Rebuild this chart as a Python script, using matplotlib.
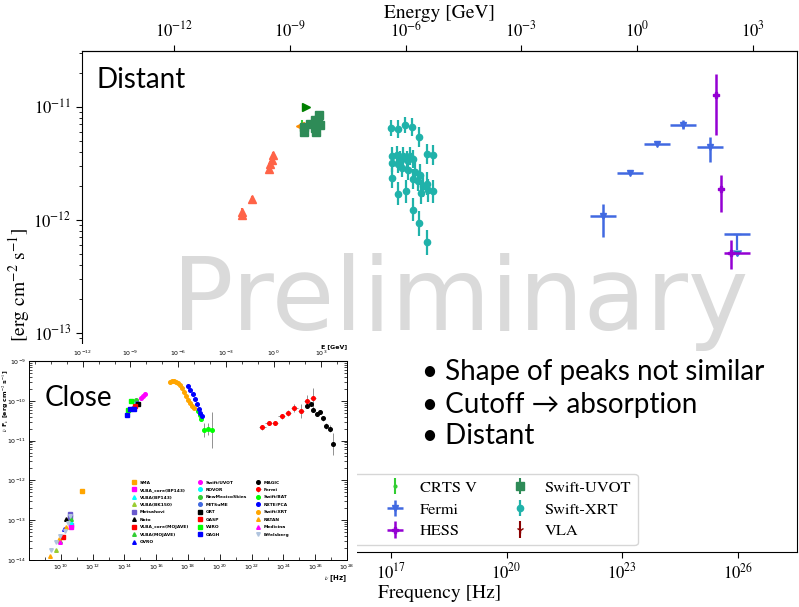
import numpy as np
import matplotlib
matplotlib.use("Agg")
import matplotlib.pyplot as plt
from matplotlib.ticker import NullLocator, NullFormatter, FixedLocator, LogLocator

plt.rcParams['mathtext.fontset'] = 'stix'
plt.rcParams['font.family'] = 'STIXGeneral'

H_GEV = 4.135667e-24  # photon energy in GeV per Hz

# ---------------- distant source (log10 nu [Hz], log10 nuFnu [erg/cm2/s]) ----------------
asas_lognu = [14.64]
asas_logf = [-11.17]
atom_lognu = [14.81]
atom_logf = [-11.00]
wise_lognu = [13.95, 13.92, 13.87, 13.85, 13.41, 13.13, 13.13]
wise_logf = [-11.43, -11.47, -11.51, -11.55, -11.82, -11.93, -11.96]
crts_lognu = [14.70]
crts_logf = [-11.17]
uvot_lognu = [14.74, 14.74, 14.90, 15.03, 15.06, 15.03, 15.14, 15.16, 15.11]
uvot_logf = [-11.22, -11.18, -11.15, -11.19, -11.22, -11.12, -11.07, -11.16, -11.12]
vla_lognu = [9.16]
vla_logf = [-14.30]

xrt_lognu = [16.99, 17.19, 17.36, 17.54, 17.74, 17.93, 18.10,
             17.04, 17.15, 17.23, 17.32, 17.41, 17.49, 17.58,
             17.02, 17.19, 17.30, 17.45, 17.62, 17.75,
             17.02, 17.58, 17.71, 17.82, 17.94,
             17.19, 17.39, 17.77, 17.97, 18.10,
             17.58, 17.74, 17.94]
xrt_logf = [-11.19, -11.20, -11.16, -11.18, -11.27, -11.42, -11.43,
            -11.44, -11.43, -11.47, -11.44, -11.47, -11.44, -11.46,
            -11.50, -11.51, -11.54, -11.56, -11.58, -11.60,
            -11.63, -11.64, -11.66, -11.70, -11.68,
            -11.77, -11.75, -11.76, -11.74, -11.75,
            -11.91, -12.03, -12.20]
xrt_err = [0.07, 0.08, 0.07, 0.08, 0.09, 0.09, 0.09,
           0.08, 0.08, 0.08, 0.08, 0.08, 0.08, 0.08,
           0.08, 0.08, 0.08, 0.09, 0.09, 0.09,
           0.09, 0.09, 0.09, 0.10, 0.10,
           0.10, 0.10, 0.10, 0.10, 0.10,
           0.10, 0.11, 0.11]

fermi_lognu = [22.49, 23.19, 23.89, 24.58, 25.28]
fermi_logf = [-11.97, -11.59, -11.33, -11.16, -11.36]
fermi_binw = [0.34, 0.34, 0.34, 0.34, 0.34]
fermi_err_lo = [0.18, 0.0, 0.0, 0.04, 0.13]
fermi_err_hi = [0.11, 0.0, 0.0, 0.04, 0.09]
fermi_ul_lognu = [25.97]
fermi_ul_logf = [-12.13]

hess_lognu = [25.44, 25.57, 25.81]
hess_logf = [-10.90, -11.73, -12.29]
hess_err_lo = [0.35, 0.20, 0.15]
hess_err_hi = [0.19, 0.13, 0.11]
hess_binw_lo = [0.03, 0.03, 0.17]
hess_binw_hi = [0.03, 0.03, 0.49]

# ---------------- close source ----------------
close_sma = ([11.35], [-12.26])
close_vlba_core_bp = ([10.66, 10.62], [-13.12, -13.18])
close_vlba_bp = ([10.66], [-13.04])
close_vlba_bk = ([9.68], [-13.76])
close_metsahovi = ([10.56, 10.60], [-12.84, -12.91])
close_noto = ([10.35], [-12.98])
close_vlba_core_mojave = ([10.14], [-13.43])
close_vlba_mojave = ([9.97, 10.64], [-13.53, -12.98])
close_ovro = ([10.18], [-13.23])
close_uvot = ([15.07, 15.17, 15.30], [-9.92, -9.87, -9.82])
close_rovor = ([14.71], [-10.03])
close_nms = ([14.75], [-9.97])
close_mitsume = ([14.54, 14.79], [-10.19, -10.05])
close_grt = ([14.83], [-10.07])
close_gasp = ([14.65], [-10.14])
close_wiro = ([14.21, 14.44], [-10.22, -10.01])
close_oagh = ([14.16, 14.37, 14.58], [-10.36, -10.21, -10.21])
close_magic = ([25.48, 25.71, 25.88, 26.09, 26.30, 26.49, 26.70, 26.91, 27.10],
               [-10.13, -10.09, -10.24, -10.33, -10.28, -10.44, -10.64, -10.70, -11.09])
close_fermi = ([22.68, 23.07, 23.47, 23.89, 24.29, 24.69, 25.09, 25.48, 25.88],
               [-10.67, -10.55, -10.55, -10.39, -10.30, -10.19, -10.26, -10.01, -9.94])
close_bat = ([18.65, 18.73, 18.80, 18.99, 19.24, 19.53],
             [-10.26, -10.36, -10.45, -10.74, -10.70, -10.74])
close_pca = ([18.00, 18.15, 18.29, 18.44, 18.57, 18.67, 18.78, 18.86],
             [-9.64, -9.74, -9.84, -9.96, -10.09, -10.20, -10.30, -10.39])
close_xrt = ([16.89, 17.01, 17.14, 17.27, 17.39, 17.52, 17.64, 17.77, 17.90, 18.02, 18.15, 18.27, 18.40],
             [-9.52, -9.50, -9.49, -9.52, -9.55, -9.61, -9.69, -9.78, -9.88, -9.97, -10.05, -10.12, -10.18])
close_ratan = ([9.34, 9.89, 10.35], [-13.90, -13.48, -13.18])
close_medicina = ([9.93], [-13.54])
close_effelsberg = ([9.40, 9.72, 9.97, 10.24, 10.45, 10.56], [-13.76, -13.56, -13.39, -13.26, -13.06, -12.89])

close_magic_err = [0.05, 0.05, 0.05, 0.05, 0.05, 0.06, 0.07, 0.08, 0.27]
close_fermi_err = [0.06, 0.05, 0.05, 0.07, 0.08, 0.10, 0.17, 0.15, 0.25]
close_bat_err = [0.0, 0.0, 0.0, 0.17, 0.15, 0.45]


def lin(logs):
    return np.power(10.0, np.asarray(logs, dtype=float))


def log_err(logs, lo, hi):
    y = lin(logs)
    return [y - y / lin(lo), y * lin(hi) - y]


def nu_to_gev(nu):
    return nu * H_GEV


def gev_to_nu(e):
    return e / H_GEV


def draw_distant(fig):
    ax = fig.add_axes([82 / 799, 1 - 552 / 607, 715 / 799, 501 / 607])
    ax.set_xscale('log')
    ax.set_yscale('log')

    ax.errorbar(lin(asas_lognu), lin(asas_logf), fmt='<', color='darkorange', ms=6, label='ASAS')
    ax.errorbar(lin(atom_lognu), lin(atom_logf), fmt='>', color='green', ms=6, label='ATOM')
    ax.errorbar(lin(wise_lognu), lin(wise_logf), yerr=log_err(wise_logf, [0.03] * 7, [0.03] * 7),
                fmt='^', color='tomato', ms=6, label='WISE')
    ax.errorbar(lin(crts_lognu), lin(crts_logf), yerr=log_err(crts_logf, [0.05], [0.05]),
                fmt='o', color='limegreen', ms=2, elinewidth=1.5, label='CRTS V')
    ax.errorbar(lin(fermi_lognu), lin(fermi_logf),
                xerr=log_err(fermi_lognu, fermi_binw, fermi_binw),
                yerr=log_err(fermi_logf, fermi_err_lo, fermi_err_hi),
                fmt='v', color='royalblue', ms=4, elinewidth=1.8, label='Fermi')
    # upper limit: bin width bar plus a downward arrow
    ax.errorbar(lin(fermi_ul_lognu), lin(fermi_ul_logf),
                xerr=log_err(fermi_ul_lognu, [0.34], [0.34]),
                fmt='none', ecolor='royalblue', elinewidth=1.8)
    ax.errorbar(lin(fermi_ul_lognu), lin(fermi_ul_logf),
                yerr=log_err(fermi_ul_logf, [0.14], [0.0]), uplims=True,
                fmt='none', ecolor='royalblue', elinewidth=1.6, capsize=3)
    ax.errorbar(lin(hess_lognu), lin(hess_logf),
                xerr=log_err(hess_lognu, hess_binw_lo, hess_binw_hi),
                yerr=log_err(hess_logf, hess_err_lo, hess_err_hi),
                fmt='P', color='darkviolet', ms=4, elinewidth=1.8, label='HESS')
    ax.errorbar(lin(uvot_lognu), lin(uvot_logf), yerr=log_err(uvot_logf, [0.01] * 9, [0.01] * 9),
                fmt='s', color='seagreen', ms=5.5, label='Swift-UVOT')
    ax.errorbar(lin(xrt_lognu), lin(xrt_logf), yerr=log_err(xrt_logf, xrt_err, xrt_err),
                fmt='o', color='lightseagreen', ms=4.5, elinewidth=1.6, label='Swift-XRT')
    ax.errorbar(lin(vla_lognu), lin(vla_logf), yerr=log_err(vla_logf, [0.1], [0.1]),
                fmt='1', color='darkred', ms=5, label='VLA')

    ax.set_xlim(10 ** 8.99, 10 ** 27.53)
    ax.set_ylim(10 ** -14.94, 10 ** -10.507)
    ax.set_xticks([1e17, 1e20, 1e23, 1e26])
    ax.xaxis.set_minor_locator(NullLocator())
    ax.tick_params(which='both', direction='out', labelsize=12)
    ax.tick_params(which='major', length=4)
    ax.tick_params(which='minor', length=2)
    ax.set_xlabel('Frequency [Hz]', fontsize=14, labelpad=2)
    ax.set_ylabel(r'$\nu F_{\nu}$ [erg cm$^{-2}$ s$^{-1}$]', fontsize=14, labelpad=1)

    secax = ax.secondary_xaxis('top', functions=(nu_to_gev, gev_to_nu))
    secax.set_xticks([1e-12, 1e-9, 1e-6, 1e-3, 1e0, 1e3])
    secax.xaxis.set_minor_locator(NullLocator())
    secax.tick_params(direction='out', length=4, labelsize=12)
    secax.set_xlabel('Energy [GeV]', fontsize=14, labelpad=2)

    ax.legend(ncol=3, loc='lower right', bbox_to_anchor=(0.787, 0.0), fontsize=11.8,
              columnspacing=1.65, handletextpad=0.5, labelspacing=0.45, borderaxespad=0.43)

    ax.text(0.02, 0.968, 'Distant', transform=ax.transAxes, va='top', ha='left',
            fontsize=20, family='Lato')
    ax.text(172 / 799, 1 - 330 / 607, 'Preliminary', transform=fig.transFigure,
            fontsize=73.5, color='#dadada', family='DejaVu Sans', va='baseline', zorder=0)
    return ax


def draw_close(fig):
    # white backing so the small SED covers the corner of the big one
    bg = fig.add_axes([0, 0, 357 / 799, 263 / 607], zorder=5)
    bg.set_xticks([])
    bg.set_yticks([])
    for s in bg.spines.values():
        s.set_visible(False)

    ins = fig.add_axes([29 / 799, 1 - 560 / 607, 318 / 799, 199 / 607], zorder=6)
    ins.set_xscale('log')
    ins.set_yscale('log')

    styles = [
        ('SMA', close_sma, 'orange', 's'),
        ('VLBA_core(BP143)', close_vlba_core_bp, 'magenta', 's'),
        ('VLBA(BP143)', close_vlba_bp, 'cyan', '^'),
        ('VLBA(BK150)', close_vlba_bk, 'yellowgreen', '^'),
        ('Metsahovi', close_metsahovi, 'slateblue', 's'),
        ('Noto', close_noto, 'black', '^'),
        ('VLBA_core(MOJAVE)', close_vlba_core_mojave, 'red', 's'),
        ('VLBA(MOJAVE)', close_vlba_mojave, 'limegreen', '^'),
        ('OVRO', close_ovro, 'blue', '^'),
        ('Swift/UVOT', close_uvot, 'magenta', 'o'),
        ('ROVOR', close_rovor, 'cyan', 'o'),
        ('NewMexicoSkies', close_nms, 'limegreen', 'o'),
        ('MITSuME', close_mitsume, 'royalblue', 'o'),
        ('GRT', close_grt, 'black', 's'),
        ('GASP', close_gasp, 'red', 's'),
        ('WIRO', close_wiro, 'lime', 's'),
        ('OAGH', close_oagh, 'blue', 's'),
        ('MAGIC', close_magic, 'black', 'o'),
        ('Fermi', close_fermi, 'red', 'o'),
        ('Swift/BAT', close_bat, 'lime', 'o'),
        ('RXTE/PCA', close_pca, 'blue', 'o'),
        ('Swift/XRT', close_xrt, 'orange', 'o'),
        ('RATAN', close_ratan, 'orange', '^'),
        ('Medicina', close_medicina, 'magenta', '^'),
        ('Effelsberg', close_effelsberg, 'lightsteelblue', 'v'),
    ]
    errs = {'MAGIC': close_magic_err, 'Fermi': close_fermi_err, 'Swift/BAT': close_bat_err}
    for label, (lognu, logf), color, marker in styles:
        yerr = None
        xerr = None
        if label in errs:
            yerr = log_err(logf, errs[label], errs[label])
        if label == 'Fermi':
            xerr = log_err(lognu, [0.2] * len(lognu), [0.2] * len(lognu))
        ins.errorbar(lin(lognu), lin(logf), xerr=xerr, yerr=yerr, fmt=marker, color=color,
                     ms=2.6, ecolor='grey', elinewidth=0.6, label=label)

    ins.set_xlim(1e8, 1e28)
    ins.set_ylim(1e-14, 1e-9)
    ins.set_xticks([10.0 ** k for k in range(10, 29, 2)])
    ins.xaxis.set_minor_locator(FixedLocator([10.0 ** k for k in range(8, 29)]))
    ins.xaxis.set_minor_formatter(NullFormatter())
    ins.set_yticks([10.0 ** k for k in range(-14, -8)])
    ins.yaxis.set_minor_locator(LogLocator(subs=np.arange(2, 10)))
    ins.yaxis.set_minor_formatter(NullFormatter())
    ins.tick_params(which='both', direction='in', right=True, top=False, labelsize=4.5, pad=2)
    ins.tick_params(which='major', length=4, width=0.6)
    ins.tick_params(which='minor', length=2, width=0.5)
    for lab in ins.get_xticklabels() + ins.get_yticklabels():
        lab.set_family('DejaVu Sans')
    for s in ins.spines.values():
        s.set_linewidth(0.7)
    ins.set_xlabel(r'$\nu$ [Hz]', loc='right', fontsize=5, family='DejaVu Sans',
                   fontweight='bold', labelpad=1)
    ins.set_ylabel(r'$\nu$ F$_{\nu}$ [erg cm$^{-2}$ s$^{-1}$]', loc='top', fontsize=4.5,
                   family='DejaVu Sans', fontweight='bold')
    ins.yaxis.set_label_coords(-0.058, 0.955)

    top = ins.secondary_xaxis('top', functions=(nu_to_gev, gev_to_nu))
    top.set_xticks([1e-12, 1e-9, 1e-6, 1e-3, 1e0, 1e3])
    top.xaxis.set_minor_locator(FixedLocator([10.0 ** k for k in range(-15, 5)]))
    top.xaxis.set_minor_formatter(NullFormatter())
    top.tick_params(which='both', direction='in', labelsize=4.5, pad=2)
    top.tick_params(which='major', length=4, width=0.6)
    top.tick_params(which='minor', length=2, width=0.5)
    for lab in top.get_xticklabels():
        lab.set_family('DejaVu Sans')
    ins.text(1.0, 1.058, 'E [GeV]', transform=ins.transAxes, ha='right', va='bottom',
             fontsize=4.5, family='DejaVu Sans', fontweight='bold')

    ins.legend(ncol=3, loc='upper left', bbox_to_anchor=(0.31, 0.42), frameon=False,
               markerscale=1.0, handlelength=1.0, handletextpad=0.8,
               columnspacing=2.0, labelspacing=0.75,
               prop={'family': 'DejaVu Sans', 'size': 3.2, 'weight': 'bold'})

    ins.text(0.05, 0.88, 'Close', transform=ins.transAxes, va='top', ha='left',
             fontsize=20, family='Lato')
    return ins


def main():
    fig = plt.figure(figsize=(7.99, 6.07), dpi=100)
    draw_distant(fig)
    draw_close(fig)

    bullets = ['\u2022 Shape of peaks not similar',
               '\u2022 Cutoff \u2192 absorption',
               '\u2022 Distant']
    for text, ybase in zip(bullets, [380, 413, 444]):
        fig.text(422 / 799, 1 - ybase / 607, text, fontsize=20, va='baseline',
                 family=['Lato', 'DejaVu Sans'], zorder=10)

    fig.savefig('out.png', dpi=100)
    plt.close(fig)


if __name__ == '__main__':
    main()
